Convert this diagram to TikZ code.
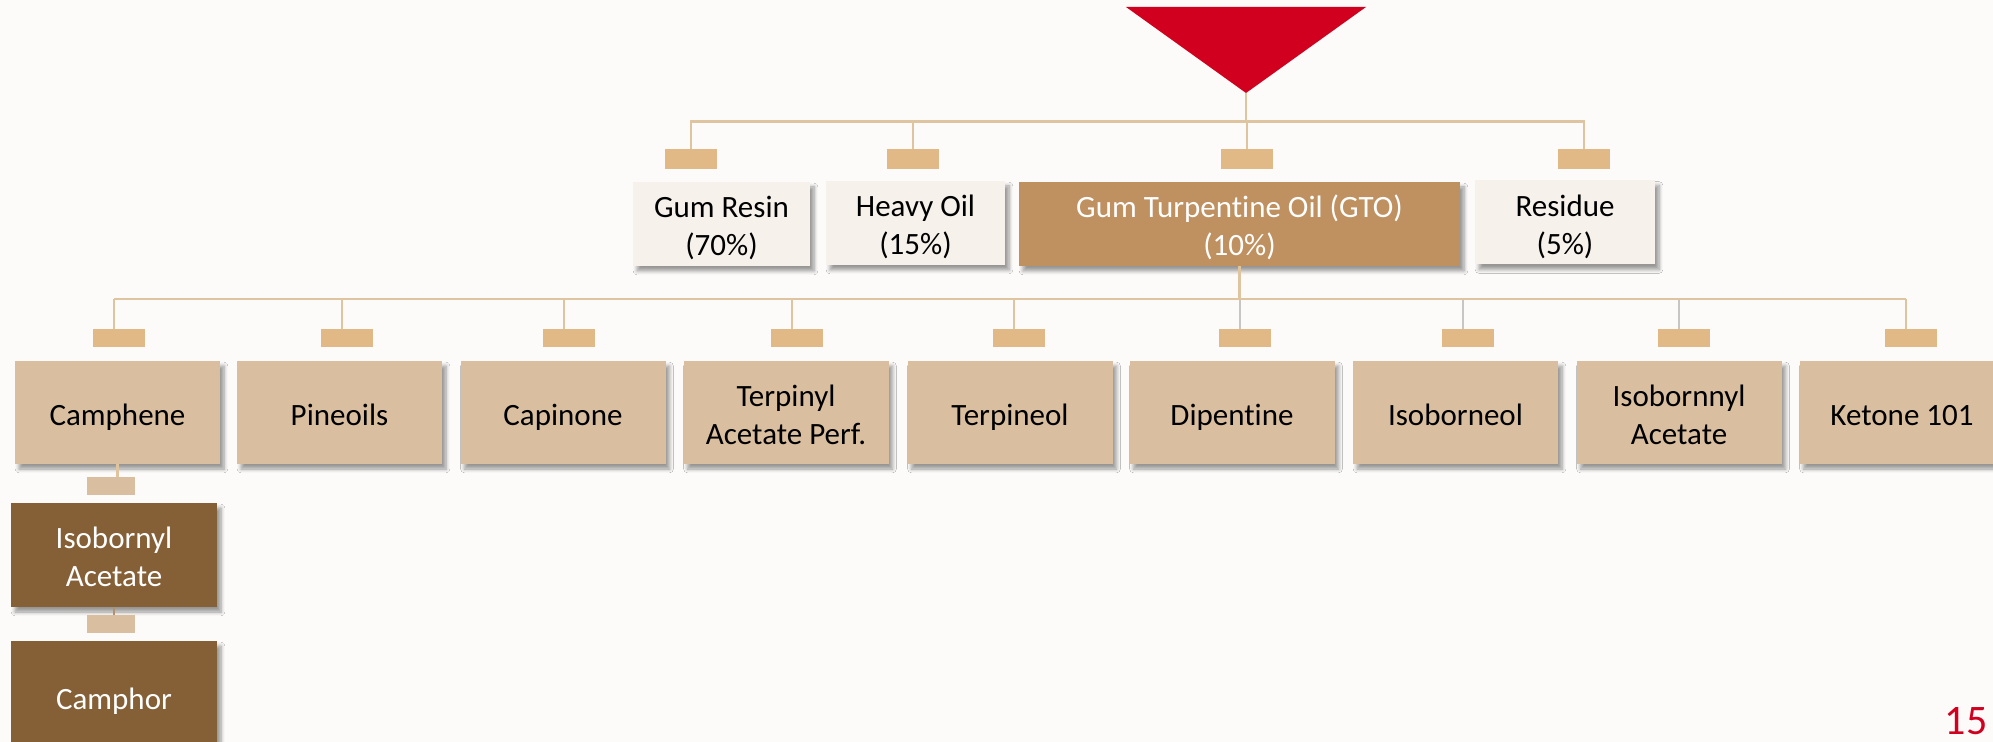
\documentclass[tikz,border=0pt]{standalone}
\usepackage{fontspec}
\setmainfont{Carlito}[Ligatures=NoCommon]
\usetikzlibrary{shadows.blur}
\definecolor{tric}{RGB}{208,0,30}
\definecolor{connc}{RGB}{223,196,160}
\definecolor{dropg}{RGB}{200,198,196}
\definecolor{sqc}{RGB}{224,185,134}
\definecolor{palec}{RGB}{246,241,235}
\definecolor{gtoc}{RGB}{192,145,96}
\definecolor{tanc}{RGB}{217,191,160}
\definecolor{darkc}{RGB}{133,95,54}
\definecolor{linkc}{RGB}{176,146,110}
\definecolor{bgc}{RGB}{252,251,250}
\newcommand\lnst{\rule[-3pt]{0pt}{19pt}}
\begin{document}
\begin{tikzpicture}[x=0.5pt,y=-0.5pt,
  conn/.style={draw=connc, line width=1.3pt},
  sqbox/.style={fill=sqc, minimum width=26pt, minimum height=10pt, inner sep=0pt},
  box/.style={inner sep=0pt, align=center, font=\fontsize{15.5}{19}\selectfont,
    blur shadow={shadow xshift=2pt, shadow yshift=-2.5pt, shadow blur steps=6, shadow opacity=40}},
  lvone/.style={box, minimum height=42pt},
  lvtwo/.style={box, fill=tanc, minimum width=102.5pt, minimum height=51.5pt},
  darkbox/.style={box, fill=darkc, text=white, minimum width=103pt}
]
\useasboundingbox (0,0) rectangle (1993,742);
\fill[bgc] (0,0) rectangle (1993,742);

% triangle
\coordinate (apex) at (1246,93);
\fill[tric] (1126,7) -- (1366,7) -- (apex) -- cycle;

% level 1
\node[sqbox] (sgr) at (691,159) {};
\node[sqbox] (sho) at (913,159) {};
\node[sqbox] (sgto) at (1247,159) {};
\node[sqbox] (sres) at (1584,159) {};
\coordinate (b1) at (1246,121.5);
\draw[conn] (apex) -- (b1);
\draw[conn] (sgr.north) |- (b1) -| (sres.north);
\draw[conn] (sho.north) -- (sho.north |- b1);
\draw[conn] (sgto.north) -- (sgto.north |- b1);

\node[lvone, fill=palec, minimum width=88.5pt] (gr) at (721.5,224) {\lnst Gum Resin\\\lnst(70\%)};
\node[lvone, fill=palec, minimum width=89.5pt] (ho) at (915.5,223) {\lnst Heavy Oil\\\lnst(15\%)};
\node[lvone, fill=gtoc, text=white, minimum width=220.5pt] (gto) at (1239.5,224) {\lnst Gum Turpentine Oil (GTO)\\\lnst(10\%)};
\node[lvone, fill=palec, minimum width=90pt] (res) at (1565,222.5) {\lnst Residue\\\lnst(5\%)};

% level 2
\foreach \n/\x/\d/\t/\c in {
  camph/117.5/114/{\lnst Camphene}/connc,
  pine/339.5/342/{\lnst Pineoils}/connc,
  capi/563/564/{\lnst Capinone}/connc,
  terpa/786/792/{\lnst Terpinyl\\\lnst Acetate Perf.}/connc,
  terpi/1010/1014/{\lnst Terpineol}/connc,
  dip/1232/1240/{\lnst Dipentine}/dropg,
  isob/1455.5/1463/{\lnst Isoborneol}/dropg,
  isoa/1679/1679/{\lnst Isobornnyl\\\lnst Acetate}/dropg,
  ket/1902/1906/{\lnst Ketone 101}/connc}{
  \coordinate (t\n) at (\d,299);
  \node[sqbox, minimum height=9pt] (s\n) at (\d+5,338) {};
  \draw[conn, draw=\c] (t\n) -- (t\n |- s\n.north);
  \node[lvtwo] (b\n) at (\x,412.5) {\t};
}
\draw[conn] (tcamph) -- (tket);
\draw[conn] (gto.south) -- (gto.south |- tcamph);

% camphene chain
\node[sqbox, fill=tanc, minimum width=24pt, minimum height=9pt] (cs1) at (111,486) {};
\draw[conn] (bcamph.south) -- (bcamph.south |- cs1.north);
\node[darkbox, minimum height=52pt] (iso) at (114,555) {\lnst Isobornyl\\\lnst Acetate};
\node[sqbox, fill=tanc, minimum width=24pt, minimum height=9pt] (cs2) at (111,624) {};
\draw[conn, draw=linkc] (iso.south) -- (iso.south |- cs2.north);
\node[darkbox, minimum height=56pt] (camphor) at (114,697) {\lnst Camphor};

% page number
\node[text=tric, font=\fontsize{21}{25}\selectfont, inner sep=0pt] (pg) at (1966,721) {15};
\end{tikzpicture}
\end{document}
